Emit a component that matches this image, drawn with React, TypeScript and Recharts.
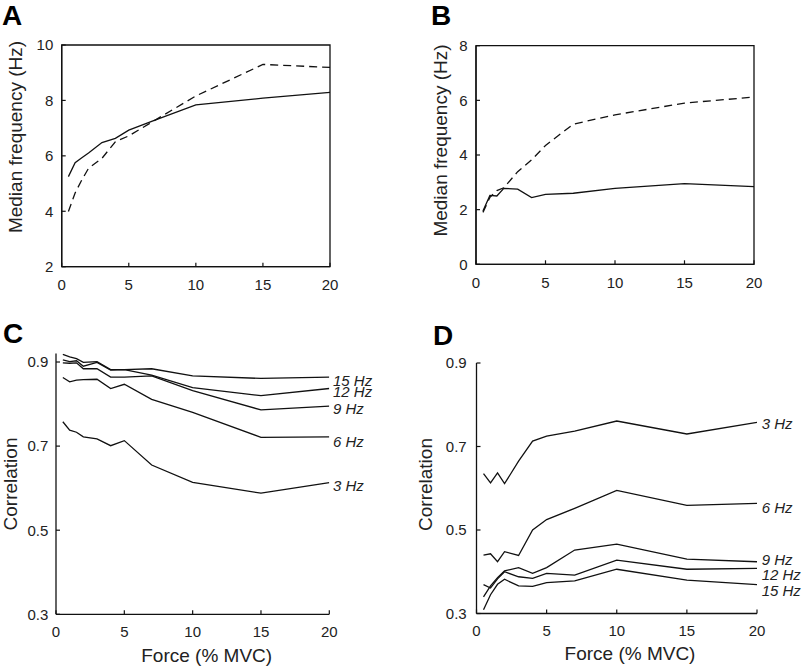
import React from "react";
import { Label, Line, LineChart, ReferenceArea, XAxis, YAxis } from "recharts";

// force levels (% MVC) sampled in every panel
const force = [0.5, 1, 1.5, 2, 3, 4, 5, 7, 10, 15, 20];
const xTicks = [0, 5, 10, 15, 20];

// A: median frequency (Hz)
const aSolid = [5.25, 5.75, 5.93, 6.1, 6.48, 6.63, 6.93, 7.3, 7.84, 8.08, 8.29];
const aDashed = [3.99, 4.66, 5.13, 5.55, 5.91, 6.51, 6.72, 7.3, 8.16, 9.3, 9.19];

// B: median frequency (Hz)
const bSolid = [1.95, 2.52, 2.5, 2.78, 2.75, 2.44, 2.56, 2.6, 2.78, 2.95, 2.84];
const bDashed = [1.9, 2.45, 2.7, 2.8, 3.39, 3.82, 4.35, 5.13, 5.47, 5.9, 6.12];

// C: correlation per frequency band
const c3 = [0.758, 0.738, 0.733, 0.722, 0.717, 0.701, 0.713, 0.655, 0.614, 0.588, 0.613];
const c6 = [0.863, 0.853, 0.857, 0.858, 0.859, 0.837, 0.847, 0.811, 0.78, 0.721, 0.722];
const c9 = [0.898, 0.897, 0.898, 0.884, 0.884, 0.864, 0.864, 0.867, 0.832, 0.786, 0.795];
const c12 = [0.905, 0.901, 0.903, 0.89, 0.899, 0.881, 0.882, 0.869, 0.839, 0.82, 0.837];
const c15 = [0.918, 0.912, 0.908, 0.899, 0.901, 0.882, 0.882, 0.884, 0.867, 0.861, 0.864];

// D: correlation per frequency band
const d3 = [0.635, 0.613, 0.637, 0.611, 0.665, 0.713, 0.725, 0.737, 0.761, 0.73, 0.758];
const d6 = [0.44, 0.443, 0.424, 0.448, 0.439, 0.5, 0.525, 0.552, 0.595, 0.559, 0.564];
const d9 = [0.34, 0.366, 0.386, 0.402, 0.41, 0.396, 0.41, 0.452, 0.466, 0.43, 0.424];
const d12 = [0.369, 0.361, 0.383, 0.4, 0.388, 0.384, 0.396, 0.392, 0.428, 0.406, 0.408];
const d15 = [0.309, 0.345, 0.37, 0.382, 0.366, 0.365, 0.374, 0.378, 0.406, 0.38, 0.369];

const bandLabels = ["3 Hz", "6 Hz", "9 Hz", "12 Hz", "15 Hz"];

const FONT = "'Liberation Sans', Arial, Helvetica, sans-serif";
const INK = "#111";
const TEXT = "#222";

type Series = { key: string; values: number[]; dashed?: boolean; label?: string; nudge?: number };

type PanelProps = {
    left: number;
    top: number;
    width: number;
    height: number;
    margin: { top: number; right: number; left: number; bottom: number };
    yWidth: number;
    xHeight: number;
    yDomain: [number, number];
    yTicks: number[];
    series: Series[];
    boxed?: boolean;
    yTickMargin: number;
    xTickMargin: number;
    yTitle: string;
    yTitleAt: [number, number];
    xTitle?: string;
    xTitleAt?: [number, number];
    labelDx?: number;
};

function buildRows(series: Series[]) {
    return force.map((f, i) => {
        const row: { [k: string]: number } = { force: f };
        series.forEach(s => { row[s.key] = s.values[i]; });
        return row;
    });
}

const endLabel = (s: Series, last: number, dx: number) => (p: any) => {
    if (p.index !== last || !s.label) return <g />;
    return (
        <text x={p.x + dx} y={p.y + (s.nudge || 0)} dy="0.35em" fontSize={15} fontStyle="italic"
            fill={TEXT} fontFamily={FONT}>{s.label}</text>
    );
};

const Panel = (props: PanelProps) => {
    const rows = buildRows(props.series);
    const last = force.length - 1;
    return (
        <div style={{ position: "absolute", left: props.left, top: props.top }}>
            <LineChart width={props.width} height={props.height} data={rows} margin={props.margin}
                style={{ fontFamily: FONT }}>
                <XAxis dataKey="force" type="number" domain={[0, 20]} ticks={xTicks} allowDataOverflow
                    height={props.xHeight} tickSize={-4} tickMargin={props.xTickMargin}
                    axisLine={{ stroke: INK, strokeWidth: 1.3 }} tickLine={{ stroke: INK, strokeWidth: 1.2 }}
                    tick={{ fill: TEXT, fontSize: 15 }}>
                    {props.xTitle && props.xTitleAt && (
                        <Label content={() => (
                            <text x={props.xTitleAt![0]} y={props.xTitleAt![1]} dy="0.35em" textAnchor="middle"
                                fontSize={19} fill={TEXT} fontFamily={FONT}>{props.xTitle}</text>
                        )} />
                    )}
                </XAxis>
                <YAxis type="number" domain={props.yDomain} ticks={props.yTicks} allowDataOverflow
                    width={props.yWidth} tickSize={-4} tickMargin={props.yTickMargin}
                    axisLine={{ stroke: INK, strokeWidth: 1.3 }} tickLine={{ stroke: INK, strokeWidth: 1.2 }}
                    tick={{ fill: TEXT, fontSize: 15 }}>
                    <Label content={() => (
                        <text x={props.yTitleAt[0]} y={props.yTitleAt[1]} dy="0.35em" textAnchor="middle"
                            transform={`rotate(-90 ${props.yTitleAt[0]} ${props.yTitleAt[1]})`}
                            fontSize={19} fill={TEXT} fontFamily={FONT}>{props.yTitle}</text>
                    )} />
                </YAxis>
                {props.boxed && (
                    <ReferenceArea x1={0} x2={20} y1={props.yDomain[0]} y2={props.yDomain[1]}
                        fill="none" stroke={INK} strokeWidth={1.3} />
                )}
                {props.series.map(s => (
                    <Line key={s.key} dataKey={s.key} type="linear" stroke={INK} strokeWidth={1.3}
                        strokeDasharray={s.dashed ? "8 5" : undefined} dot={false} activeDot={false}
                        isAnimationActive={false} label={endLabel(s, last, props.labelDx || 4)} />
                ))}
            </LineChart>
        </div>
    );
};

const letterStyle = (left: number, top: number): React.CSSProperties => ({
    position: "absolute", left, top, fontFamily: FONT, fontWeight: "bold", fontSize: 28,
    lineHeight: "32px", color: "#000",
});

export default function App() {
    return (
        <div style={{ position: "absolute", left: 0, top: 0, width: 805, height: 666, background: "#fff", overflow: "hidden" }}>
            <Panel left={0} top={0} width={400} height={310}
                margin={{ top: 45, right: 70, left: 0, bottom: 0 }} yWidth={61.7} xHeight={43.3}
                yDomain={[2, 10]} yTicks={[2, 4, 6, 8, 10]} boxed yTickMargin={12.4} xTickMargin={17}
                yTitle="Median frequency (Hz)" yTitleAt={[15, 137]}
                series={[
                    { key: "solid", values: aSolid },
                    { key: "dashed", values: aDashed, dashed: true },
                ]} />
            <Panel left={400} top={0} width={405} height={310}
                margin={{ top: 45.7, right: 51, left: 0, bottom: 0 }} yWidth={76} xHeight={45.7}
                yDomain={[0, 8]} yTicks={[0, 2, 4, 6, 8]} boxed yTickMargin={12.3} xTickMargin={17}
                yTitle="Median frequency (Hz)" yTitleAt={[40, 140.5]}
                series={[
                    { key: "solid", values: bSolid },
                    { key: "dashed", values: bDashed, dashed: true },
                ]} />
            <Panel left={0} top={320} width={400} height={346}
                margin={{ top: 33.6, right: 70.7, left: 0, bottom: 0 }} yWidth={56} xHeight={51.7}
                yDomain={[0.3, 0.92]} yTicks={[0.3, 0.5, 0.7, 0.9]} yTickMargin={11.7} xTickMargin={16}
                yTitle="Correlation" yTitleAt={[10.5, 164]} xTitle="Force (% MVC)" xTitleAt={[206.7, 335]}
                labelDx={3.7}
                series={[
                    { key: "f3", values: c3, label: bandLabels[0], nudge: 3.5 },
                    { key: "f6", values: c6, label: bandLabels[1], nudge: 4.5 },
                    { key: "f9", values: c9, label: bandLabels[2], nudge: 3 },
                    { key: "f12", values: c12, label: bandLabels[3], nudge: 3.3 },
                    { key: "f15", values: c15, label: bandLabels[4], nudge: 3.8 },
                ]} />
            <Panel left={400} top={320} width={405} height={346}
                margin={{ top: 43, right: 48, left: 0, bottom: 0 }} yWidth={76.5} xHeight={52.5}
                yDomain={[0.3, 0.9]} yTicks={[0.3, 0.5, 0.7, 0.9]} yTickMargin={13.8} xTickMargin={16}
                yTitle="Correlation" yTitleAt={[25.5, 164.5]} xTitle="Force (% MVC)" xTitleAt={[230, 333.3]}
                labelDx={4.7}
                series={[
                    { key: "f3", values: d3, label: bandLabels[0], nudge: 1.7 },
                    { key: "f6", values: d6, label: bandLabels[1], nudge: 4 },
                    { key: "f9", values: d9, label: bandLabels[2], nudge: -2.3 },
                    { key: "f12", values: d12, label: bandLabels[3], nudge: 6 },
                    { key: "f15", values: d15, label: bandLabels[4], nudge: 6 },
                ]} />
            <div style={letterStyle(2, 0)}>A</div>
            <div style={letterStyle(431, 0)}>B</div>
            <div style={letterStyle(3, 318)}>C</div>
            <div style={letterStyle(433, 320)}>D</div>
        </div>
    );
}
